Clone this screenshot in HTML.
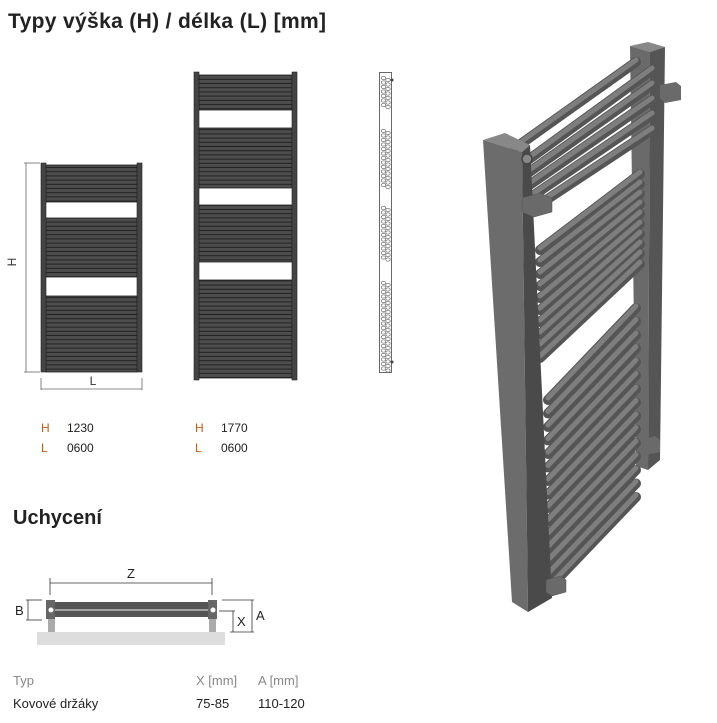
<!DOCTYPE html>
<html><head><meta charset="utf-8"><style>
body{margin:0;background:#fff;width:717px;height:723px;overflow:hidden;font-family:"Liberation Sans",sans-serif}
svg{position:absolute;left:0;top:0}
</style></head><body>
<svg id="s" width="717" height="723" viewBox="0 0 717 723" xmlns="http://www.w3.org/2000/svg" font-family="Liberation Sans, sans-serif">
<defs>
<pattern id="st" width="10" height="4.2" patternUnits="userSpaceOnUse"><rect width="10" height="4.2" fill="#4d4d4d"/><rect y="3.2" width="10" height="1" fill="#222"/></pattern>
</defs>
<text x="8" y="28" font-size="21" font-weight="bold" fill="#222" textLength="318">Typy výška (H) / délka (L) [mm]</text>
<!-- small radiator -->
<rect x="46" y="165" width="91" height="37" fill="url(#st)" stroke="#222" stroke-width="0.8"/>
<rect x="46" y="218" width="91" height="59" fill="url(#st)" stroke="#222" stroke-width="0.8"/>
<rect x="46" y="296" width="91" height="76" fill="url(#st)" stroke="#222" stroke-width="0.8"/>
<rect x="41" y="163" width="5" height="209" fill="#444" stroke="#222" stroke-width="0.6"/>
<rect x="137" y="163" width="5" height="209" fill="#444" stroke="#222" stroke-width="0.6"/>
<g stroke="#666" stroke-width="0.8" fill="none">
<line x1="26" y1="163" x2="26" y2="372"/><line x1="24" y1="163" x2="40" y2="163"/><line x1="24" y1="372" x2="40" y2="372"/>
<line x1="41" y1="378" x2="41" y2="390"/><line x1="142" y1="378" x2="142" y2="390"/><line x1="41" y1="389" x2="142" y2="389"/>
</g>
<text x="20" y="266" font-size="12" fill="#333" transform="rotate(-90 16 266)" text-anchor="middle">H</text>
<text x="93" y="385" font-size="12" fill="#333" text-anchor="middle">L</text>
<!-- big radiator -->
<rect x="199" y="75" width="93" height="35" fill="url(#st)" stroke="#222" stroke-width="0.8"/>
<rect x="199" y="128" width="93" height="60" fill="url(#st)" stroke="#222" stroke-width="0.8"/>
<rect x="199" y="205" width="93" height="57" fill="url(#st)" stroke="#222" stroke-width="0.8"/>
<rect x="199" y="280" width="93" height="98" fill="url(#st)" stroke="#222" stroke-width="0.8"/>
<rect x="194" y="72" width="5" height="308" fill="#444" stroke="#222" stroke-width="0.6"/>
<rect x="292" y="72" width="5" height="308" fill="#444" stroke="#222" stroke-width="0.6"/>
<!-- side view -->
<rect x="379.5" y="72.5" width="12" height="300" fill="#fff" stroke="#444" stroke-width="0.8"/>
<g id="holes" fill="none" stroke="#666" stroke-width="0.7"></g>
<circle cx="392" cy="80" r="1.5" fill="#444"/><circle cx="392" cy="362" r="1.5" fill="#444"/>
<!-- labels -->
<g font-size="12">
<text x="41" y="432" fill="#c55a11">H</text><text x="67" y="432" fill="#222">1230</text>
<text x="41" y="452" fill="#c55a11">L</text><text x="67" y="452" fill="#222">0600</text>
<text x="195" y="432" fill="#c55a11">H</text><text x="221" y="432" fill="#222">1770</text>
<text x="195" y="452" fill="#c55a11">L</text><text x="221" y="452" fill="#222">0600</text>
</g>
<text x="13" y="524" font-size="20" font-weight="bold" fill="#222">Uchycení</text>
<!-- mount diagram -->
<g stroke="#333" stroke-width="0.8" fill="none">
<line x1="50" y1="583" x2="212" y2="583"/><line x1="50" y1="578" x2="50" y2="595"/><line x1="212" y1="578" x2="212" y2="595"/>
<line x1="28" y1="600" x2="28" y2="620"/><line x1="26" y1="600" x2="42" y2="600"/><line x1="26" y1="620" x2="42" y2="620"/>
<line x1="222" y1="600" x2="254" y2="600"/><line x1="252" y1="600" x2="252" y2="632"/>
<line x1="219" y1="611" x2="235" y2="611"/><line x1="233" y1="611" x2="233" y2="632"/><line x1="230" y1="632" x2="254" y2="632"/>
</g>
<text x="131" y="578" font-size="13" fill="#222" text-anchor="middle">Z</text>
<text x="15" y="615" font-size="13" fill="#222">B</text>
<text x="237" y="626" font-size="13" fill="#222">X</text>
<text x="256" y="620" font-size="13" fill="#222">A</text>
<rect x="37" y="632" width="188" height="13" fill="#ddd"/>
<rect x="48" y="619" width="7" height="13" fill="#aaa"/><rect x="209" y="619" width="7" height="13" fill="#aaa"/>
<rect x="52" y="602" width="160" height="15" fill="#555"/>
<line x1="52" y1="610" x2="212" y2="610" stroke="#eee" stroke-width="1"/>
<rect x="46" y="600" width="9" height="19" fill="#666"/><rect x="208" y="600" width="9" height="19" fill="#666"/>
<circle cx="51" cy="610" r="2.5" fill="#fff"/><circle cx="213" cy="610" r="2.5" fill="#fff"/>
<g font-size="13">
<text x="13" y="685" fill="#888">Typ</text><text x="196" y="685" fill="#888">X [mm]</text><text x="258" y="685" fill="#888">A [mm]</text>
<text x="13" y="708" fill="#222">Kovové držáky</text><text x="196" y="708" fill="#222">75-85</text><text x="258" y="708" fill="#222">110-120</text>
</g>
<!-- 3D radiator -->
<g id="r3">
<polygon points="630,46 648,42 665,47 650,52" fill="#888"/>
<polygon points="630,46 650,52 648,470 636,466" fill="#6a6a6a"/>
<polygon points="650,52 665,47 660,460 648,470" fill="#555"/>
<polygon points="660,85 676,82 681,86 681,100 665,103 660,98" fill="#6a6a6a"/>
<polygon points="640,440 655,436 660,440 660,452 644,455 640,451" fill="#6a6a6a"/>
<g id="bars"></g>
<polygon points="483,140 505,133 530,145 522,152" fill="#888"/>
<polygon points="483,140 522,152 528,612 512,602" fill="#6c6c6c"/>
<polygon points="522,152 530,145 552,598 528,612" fill="#4a4a4a"/>
<circle cx="527" cy="159" r="5" fill="#888" stroke="#444" stroke-width="1.5"/>
<polygon points="522,198 540,193 552,198 552,212 534,217 522,212" fill="#6a6a6a" stroke="#555" stroke-width="0.5"/>
<polygon points="546,580 560,576 566,580 566,592 552,596 546,592" fill="#6a6a6a" stroke="#555" stroke-width="0.5"/>
</g>
</svg>
<script>
var NS="http://www.w3.org/2000/svg";
var h=document.getElementById('holes');
function c(x,y){var e=document.createElementNS(NS,'ellipse');e.setAttribute('cx',x);e.setAttribute('cy',y);e.setAttribute('rx',2.2);e.setAttribute('ry',1.7);h.appendChild(e);}
[[75,108],[128,186],[205,260],[280,370]].forEach(function(g){for(var y=g[0]+3;y<g[1];y+=4.5){c(383.5,y);c(388,y+2);}});
var b=document.getElementById('bars');
function bar(x1,y1,x2,y2){
 var l=document.createElementNS(NS,'line');l.setAttribute('x1',x1);l.setAttribute('y1',y1);l.setAttribute('x2',x2);l.setAttribute('y2',y2);l.setAttribute('stroke','#555');l.setAttribute('stroke-width',10);l.setAttribute('stroke-linecap','round');b.appendChild(l);
 var m=document.createElementNS(NS,'line');m.setAttribute('x1',x1);m.setAttribute('y1',y1-2);m.setAttribute('x2',x2);m.setAttribute('y2',y2-2);m.setAttribute('stroke','#7e7e7e');m.setAttribute('stroke-width',5);m.setAttribute('stroke-linecap','round');b.appendChild(m);}
bar(515,148,636,62);
for(var i=0;i<5;i++){var y=160+i*13;bar(528,y,652,y-90+i*2);}
for(var i=0;i<10;i++){var y=250+i*12;bar(540,y,640,y-76-i*2);}
for(var i=0;i<15;i++){var y=400+i*13.5;bar(548,y,636,y-92);}
</script>
</body></html>
